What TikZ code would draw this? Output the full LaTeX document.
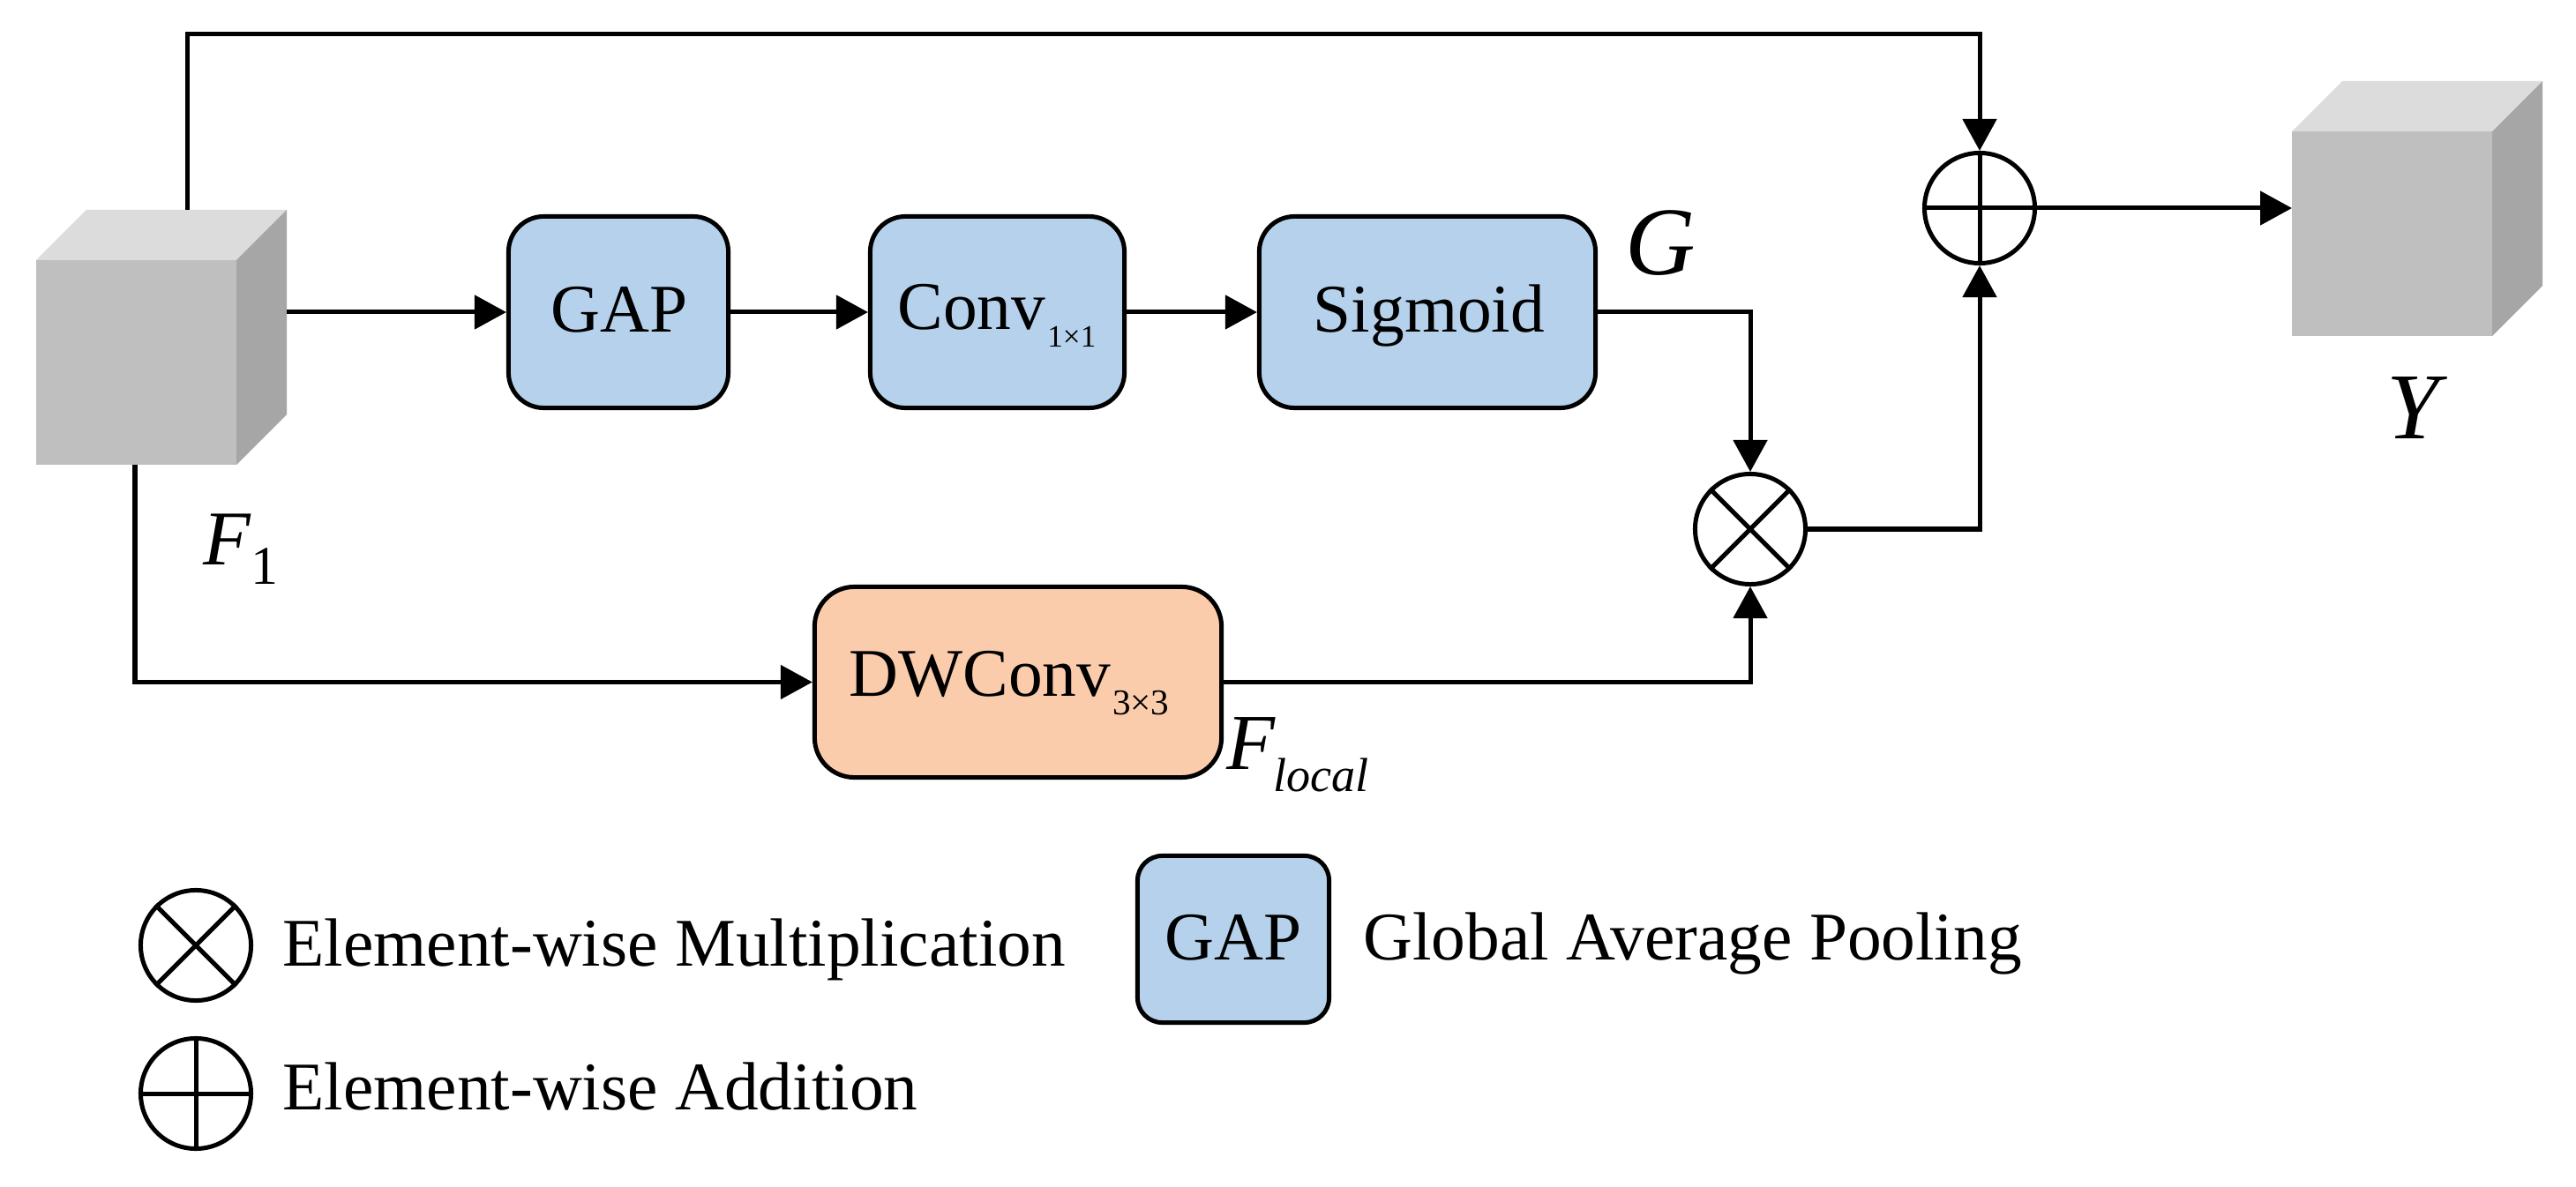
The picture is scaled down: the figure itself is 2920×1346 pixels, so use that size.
\documentclass[tikz,border=0pt]{standalone}
\usepackage{fontspec}
\setmainfont{Liberation Serif}
\usetikzlibrary{arrows.meta}
\definecolor{boxblue}{RGB}{181,209,235}
\definecolor{boxorange}{RGB}{250,204,172}
\definecolor{cfront}{RGB}{191,191,191}
\definecolor{ctop}{RGB}{220,220,220}
\definecolor{cside}{RGB}{166,166,166}
\begin{document}
\begin{tikzpicture}[x=0.01cm,y=-0.01cm,line width=0.05cm,
  arr/.style={-{Triangle[length=0.36cm,width=0.38cm]}},
  blk/.style={draw,rounded corners=0.4cm,fill=boxblue,minimum height=2.17cm,inner sep=0pt},
  oblk/.style={draw,rounded corners=0.45cm,fill=boxorange,minimum height=2.16cm,inner sep=0pt},
  opc/.style={circle,draw,fill=white,minimum size=1.25cm,inner sep=0pt},
  txt/.style={inner sep=0pt,font=\fontsize{22}{26}\selectfont},
  lbl/.style={inner sep=0pt}]
\useasboundingbox (0,0) rectangle (2920,1346);

% left cube F1
\fill[cfront] (41,295) rectangle (268,527);
\fill[ctop] (41,295) -- (98,238) -- (325,238) -- (268,295) -- cycle;
\fill[cside] (268,295) -- (325,238) -- (325,470) -- (268,527) -- cycle;
\coordinate (c1top) at (212,238);
\coordinate (c1right) at (325,354);
\coordinate (c1bot) at (153,527);
\coordinate (toprail) at (212,39);

% right cube Y
\fill[cfront] (2598,149) rectangle (2825,381);
\fill[ctop] (2598,149) -- (2655,92) -- (2882,92) -- (2825,149) -- cycle;
\fill[cside] (2825,149) -- (2882,92) -- (2882,324) -- (2825,381) -- cycle;
\coordinate (c2left) at (2598,236);

% blocks
\node[blk,minimum width=2.49cm] (gap) at (701,354) {};
\node[blk,minimum width=2.88cm] (conv) at (1130.5,354) {};
\node[blk,minimum width=3.81cm] (sig) at (1618,354) {};
\node[oblk,minimum width=4.61cm] (dw) at (1154,773.5) {};

\node[txt,anchor=base] (gapt) at (702,377) {GAP};
\node[txt,anchor=base] (convt) at (1130,374) {Conv\kern0.02cm\raisebox{-0.19cm}{\fontsize{10}{11}\selectfont 1×1}};
\node[txt,anchor=base] (sigt) at (1620,377) {Sigmoid};
\node[txt,anchor=base] (dwt) at (1144,789) {DWConv\kern0.02cm\raisebox{-0.21cm}{\fontsize{11.7}{13}\selectfont 3×3}};

% operators
\node[opc] (mul) at (1984,600) {};
\draw (mul.north west) -- (mul.south east) (mul.north east) -- (mul.south west);
\node[opc] (add) at (2244,236) {};
\draw (add.north) -- (add.south) (add.west) -- (add.east);

% connectors
\draw[arr] (c1top) -- (toprail) -| (add.north);
\draw[arr] (c1right) -- (gap.west);
\draw[arr] (gap.east) -- (conv.west);
\draw[arr] (conv.east) -- (sig.west);
\draw[arr] (sig.east) -| (mul.north);
\draw[arr] (c1bot) |- (dw.west);
\draw[arr] (dw.east) -| (mul.south);
\draw[arr] (mul.east) -| (add.south);
\draw[arr] (add.east) -- (c2left);

% labels
\node[lbl,anchor=base west] (f1) at (228,640) {\fontsize{25}{30}\selectfont\itshape F\raisebox{-0.22cm}{\upshape\fontsize{17.6}{20}\selectfont 1}};
\node[lbl,anchor=base west] (glab) at (1840,312) {\fontsize{31.3}{36}\selectfont\itshape G};
\node[lbl,anchor=base] (ylab) at (2735,498) {\fontsize{30.4}{36}\selectfont\itshape Y};
\node[lbl,anchor=base west] (flocal) at (1388,872) {\fontsize{25.6}{30}\selectfont\itshape F\kern-0.02cm\raisebox{-0.25cm}{\fontsize{15.4}{18}\selectfont local}};

% legend
\node[opc] (lmul) at (222,1072) {};
\draw (lmul.north west) -- (lmul.south east) (lmul.north east) -- (lmul.south west);
\node[txt,anchor=base west] (lmult) at (318,1095) {Element-wise Multiplication};
\node[opc] (ladd) at (222,1240) {};
\draw (ladd.north) -- (ladd.south) (ladd.west) -- (ladd.east);
\node[txt,anchor=base west] (laddt) at (318,1258) {Element-wise Addition};
\node[blk,rounded corners=0.28cm,minimum width=2.17cm,minimum height=1.89cm] (lgap) at (1398,1065) {};
\node[txt,anchor=base] (lgapt) at (1398,1088) {GAP};
\node[txt,anchor=base west] (lgapd) at (1543,1088) {Global Average Pooling};
\end{tikzpicture}
\end{document}
